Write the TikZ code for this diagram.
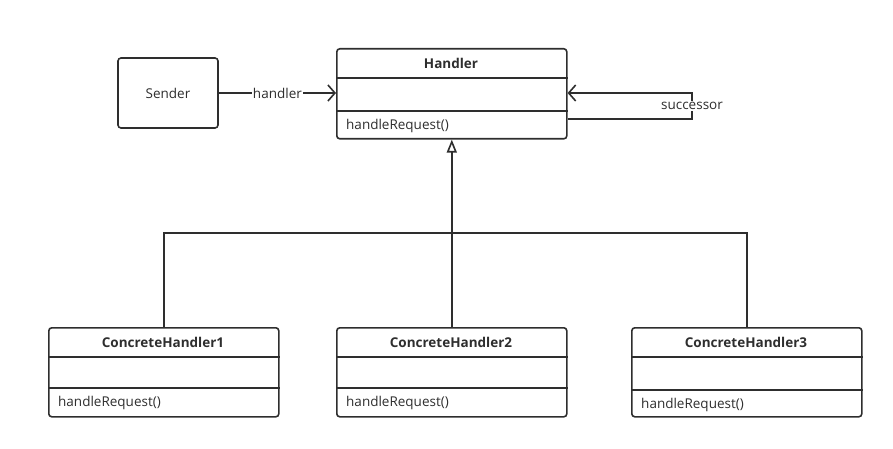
\documentclass[tikz,border=0pt]{standalone}
\usepackage{fontspec}
\setmainfont{Open Sans}
\usetikzlibrary{arrows.meta,calc}
\definecolor{ink}{HTML}{2E2E2E}
\begin{document}
\begin{tikzpicture}[x=1pt,y=-1pt,
  font=\fontsize{13.5}{16}\selectfont, text=ink,
  cls/.style={draw=ink, line width=1.6pt, rounded corners=3pt, minimum width=230pt, minimum height=90pt, inner sep=0pt, anchor=north west},
  sendbox/.style={draw=ink, line width=1.6pt, rounded corners=3pt, minimum width=100pt, minimum height=70pt, inner sep=0pt},
  divider/.style={draw=ink, line width=1.6pt},
  title/.style={font=\fontsize{13.5}{16}\selectfont\bfseries, anchor=center},
  meth/.style={anchor=west, inner sep=0pt},
  conn/.style={draw=ink, line width=1.6pt},
  assoc/.style={conn, -{Straight Barb[length=7pt,width=16pt,line width=1.6pt]}},
  inh/.style={conn, -{Triangle[open,length=13pt,width=10pt,line width=1.6pt]}},
  lbl/.style={fill=white, inner sep=1pt}
]
\useasboundingbox (0,0) rectangle (893,449);

% Sender
\node[sendbox] (sender) at (168,93) {Sender};

% Handler
\node[cls] (handler) at (336,48) {};
\node[title] (handlerT) at (451,63) {Handler};
\draw[divider] (handler.west |- 0,78) -- (handler.east |- 0,78);
\draw[divider] (handler.west |- 0,111) -- (handler.east |- 0,111);
\node[meth] (handlerM) at (346,126) {handleRequest()};

% Concrete handlers
\node[cls, minimum height=89pt] (ch1) at (48,327) {};
\node[title] (ch1T) at (163,342) {ConcreteHandler1};
\draw[divider] (ch1.west |- 0,357) -- (ch1.east |- 0,357);
\draw[divider] (ch1.west |- 0,388) -- (ch1.east |- 0,388);
\node[meth] (ch1M) at (58,403) {handleRequest()};

\node[cls, minimum height=89pt] (ch2) at (336,327) {};
\node[title] (ch2T) at (451,342) {ConcreteHandler2};
\draw[divider] (ch2.west |- 0,357) -- (ch2.east |- 0,357);
\draw[divider] (ch2.west |- 0,388) -- (ch2.east |- 0,388);
\node[meth] (ch2M) at (346,403) {handleRequest()};

\node[cls, minimum height=89pt] (ch3) at (631,327) {};
\node[title] (ch3T) at (746,342) {ConcreteHandler3};
\draw[divider] (ch3.west |- 0,357) -- (ch3.east |- 0,357);
\draw[divider] (ch3.west |- 0,390) -- (ch3.east |- 0,390);
\node[meth] (ch3M) at (641,405) {handleRequest()};

% Sender -> Handler
\draw[assoc] (sender.east) -- node[lbl] {handler} (handler.west |- sender.east);

% successor self-association
\coordinate (sA) at (692,119);
\coordinate (sB) at (692,93);
\draw[assoc] (handler.east |- sA) -- (sA) -- node[lbl] {successor} (sB) -- (handler.east |- sB);

% inheritance
\coordinate (bus) at (451,233);
\draw[conn] (ch1.north) |- (bus) -| (ch3.north);
\draw[inh] (ch2.north) -- (handler.south);
\end{tikzpicture}
\end{document}
